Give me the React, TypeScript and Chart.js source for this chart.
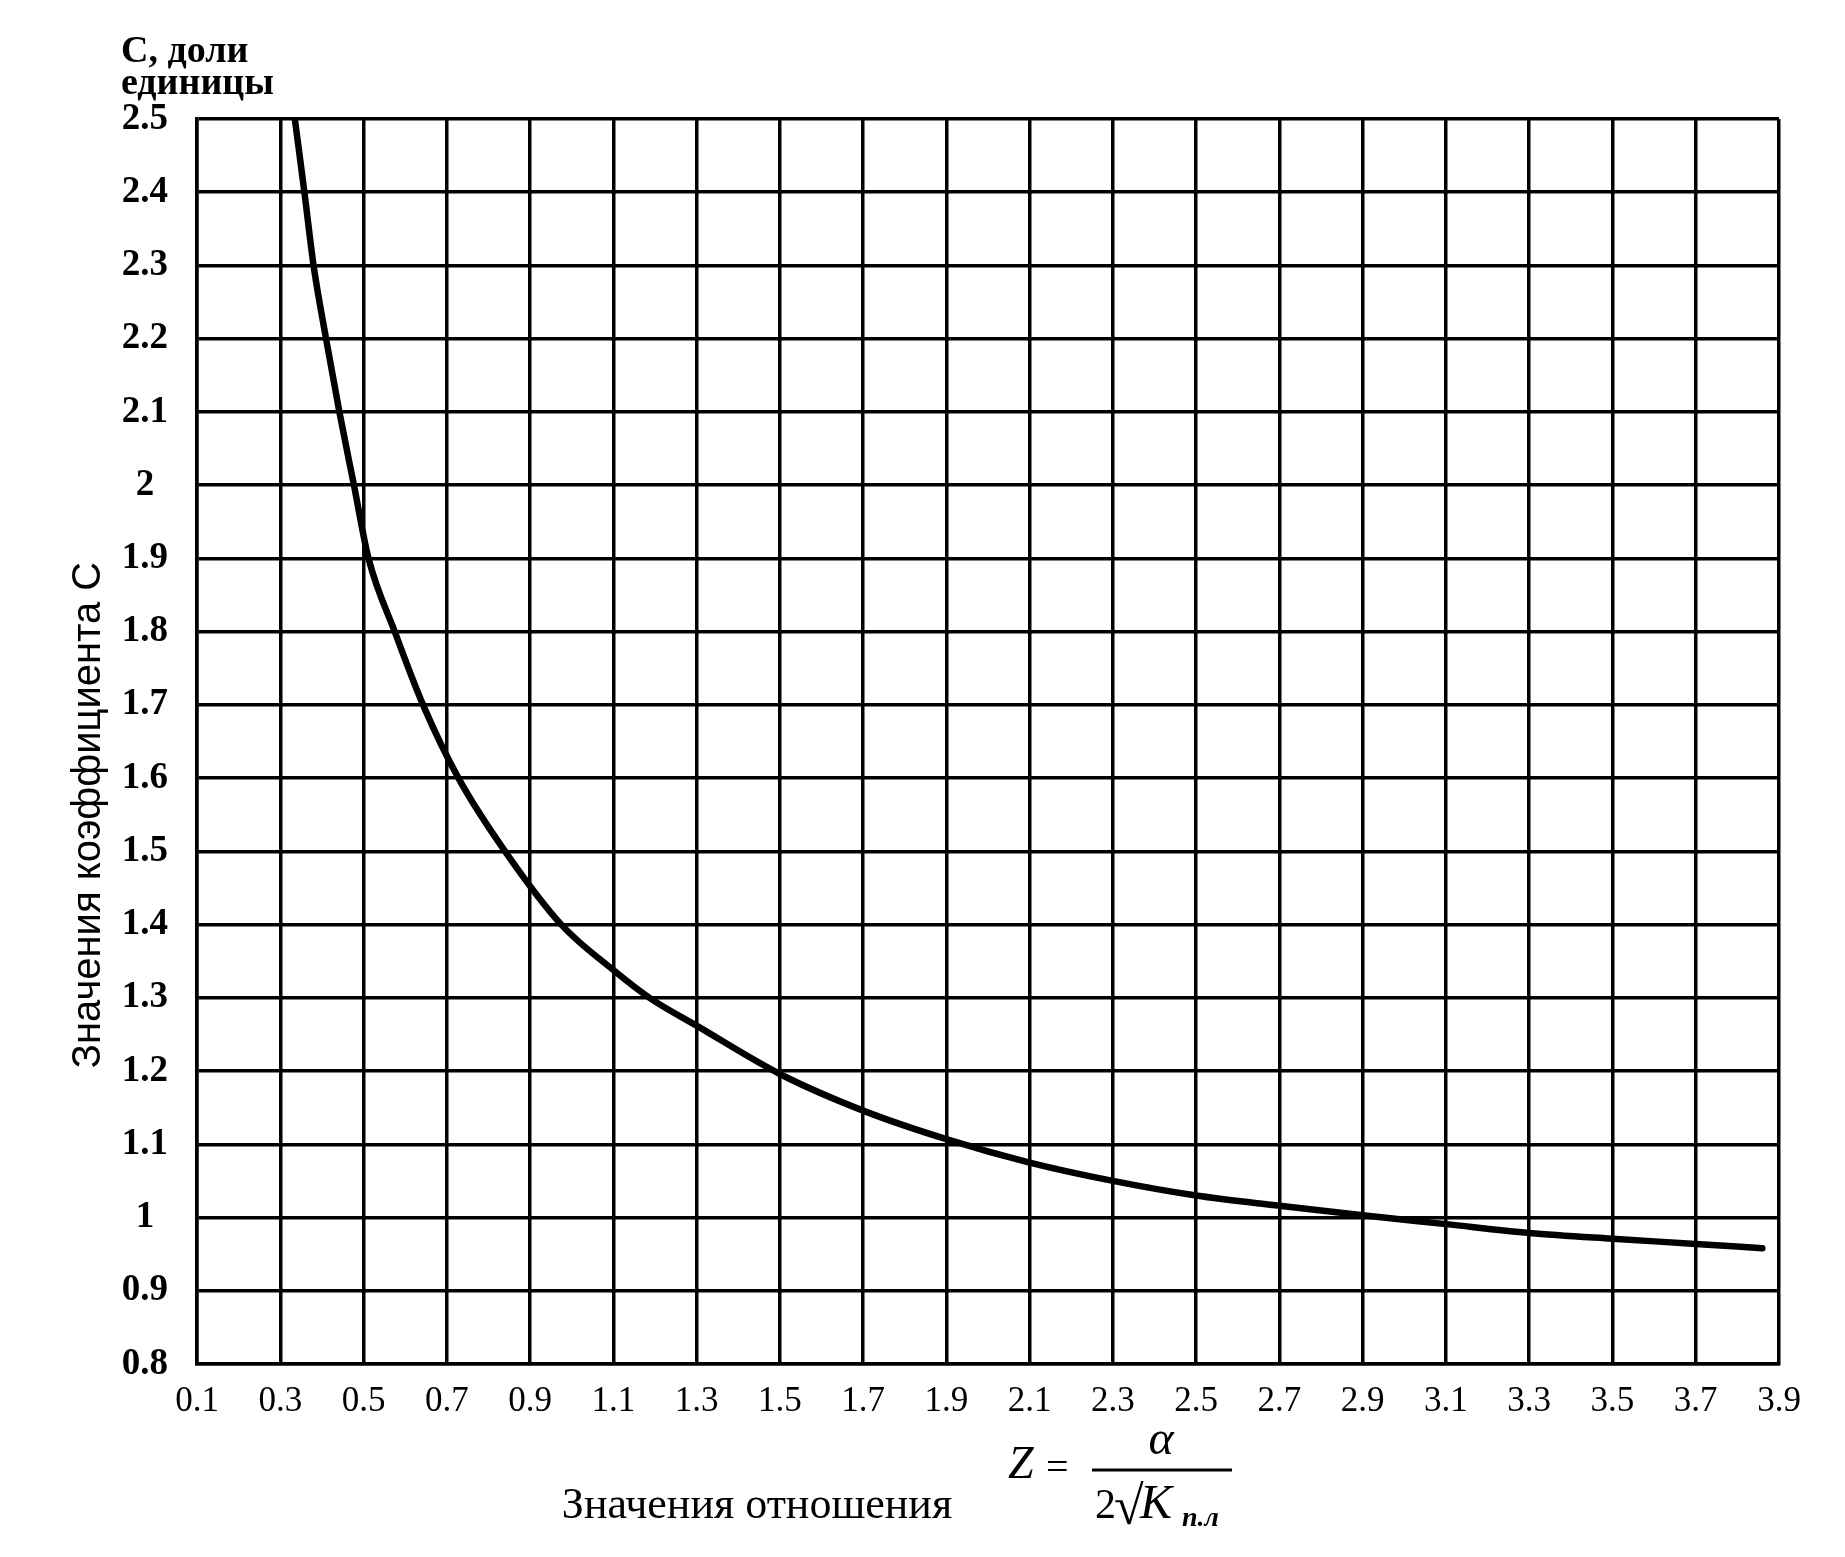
import React, { useEffect, useRef } from "react";
import { Chart, registerables } from "chart.js";

Chart.register(...registerables);

// Curve: Z (ratio) vs coefficient C
const zValues = [0.335, 0.358, 0.38, 0.41, 0.442, 0.477, 0.512, 0.575, 0.643, 0.728, 0.84, 0.975, 1.1, 1.187, 1.3, 1.5, 1.7, 1.9, 2.1, 2.3, 2.5, 2.7, 2.9, 3.1, 3.3, 3.5, 3.7, 3.86];
const cValues = [2.5, 2.4, 2.3, 2.2, 2.1, 2.0, 1.9, 1.8, 1.7, 1.6, 1.5, 1.4, 1.338, 1.3, 1.262, 1.196, 1.146, 1.107, 1.075, 1.05, 1.03, 1.016, 1.003, 0.991, 0.979, 0.971, 0.964, 0.958];

const xMin = 0.1;
const xMax = 3.9;
const xStep = 0.2;
const yMin = 0.8;
const yMax = 2.5;
const yStep = 0.1;

const yUnitLines = ["С, доли", "единицы"];
const yTitle = "Значения коэффициента С";
const xTitle = "Значения отношения";
const formulaLeft = "Z";
const formulaEq = "=";
const formulaNum = "α";
const formulaTwo = "2";
const formulaRoot = "√";
const formulaK = "K";
const formulaSub = "п.л";

const SERIF = '"Liberation Serif", "Times New Roman", serif';
const SANS = '"Liberation Sans", Arial, sans-serif';

const fmt = (v: number) => String(Number(Number(v).toFixed(1)));

const textPlugin = {
  id: "customText",
  afterDraw(chart: any) {
    const ctx = chart.ctx as CanvasRenderingContext2D;
    ctx.save();
    ctx.fillStyle = "#000";
    ctx.strokeStyle = "#000";
    ctx.textBaseline = "alphabetic";

    // top-left unit label
    ctx.font = `bold 38px ${SERIF}`;
    ctx.textAlign = "left";
    ctx.fillText(yUnitLines[0], 121, 62);
    ctx.fillText(yUnitLines[1], 121, 94);

    // rotated y title
    ctx.save();
    ctx.translate(100, 815);
    ctx.rotate(-Math.PI / 2);
    ctx.font = `40px ${SANS}`;
    ctx.textAlign = "center";
    ctx.fillText(yTitle, 0, 0);
    ctx.restore();

    // x title
    ctx.font = `44px ${SERIF}`;
    ctx.textAlign = "center";
    ctx.fillText(xTitle, 757, 1518);

    // formula
    ctx.textAlign = "left";
    ctx.font = `italic 46px ${SERIF}`;
    ctx.fillText(formulaLeft, 1008, 1478);
    ctx.font = `40px ${SERIF}`;
    ctx.fillText(formulaEq, 1046, 1480);
    ctx.lineWidth = 3;
    ctx.beginPath();
    ctx.moveTo(1092, 1470);
    ctx.lineTo(1232, 1470);
    ctx.stroke();
    ctx.font = `italic 48px ${SERIF}`;
    ctx.textAlign = "center";
    ctx.fillText(formulaNum, 1161, 1454);
    ctx.textAlign = "left";
    ctx.font = `42px ${SERIF}`;
    ctx.fillText(formulaTwo, 1095, 1518);
    ctx.font = `54px ${SERIF}`;
    ctx.fillText(formulaRoot, 1114, 1524);
    ctx.font = `italic 48px ${SERIF}`;
    ctx.fillText(formulaK, 1140, 1518);
    ctx.font = `italic bold 28px ${SERIF}`;
    ctx.fillText(formulaSub, 1182, 1526);

    ctx.restore();
  },
};

export default function App() {
  const canvasRef = useRef<HTMLCanvasElement | null>(null);

  useEffect(() => {
    if (!canvasRef.current) return;
    const data = zValues.map((z, i) => ({ x: z, y: cValues[i] }));
    const chart = new Chart(canvasRef.current, {
      type: "scatter",
      data: {
        datasets: [
          {
            data,
            showLine: true,
            borderColor: "#000",
            borderWidth: 6.5,
            pointRadius: 0,
            cubicInterpolationMode: "monotone",
            borderCapStyle: "round",
            borderJoinStyle: "round",
          } as any,
        ],
      },
      options: {
        animation: false,
        responsive: true,
        maintainAspectRatio: false,
        layout: { padding: { left: 0, right: 66, top: 119, bottom: 0 } },
        plugins: {
          legend: { display: false },
          tooltip: { enabled: false },
          title: { display: false },
        },
        scales: {
          x: {
            type: "linear",
            min: xMin,
            max: xMax,
            afterFit: (scale: any) => {
              scale.height = 193;
            },
            ticks: {
              stepSize: xStep,
              autoSkip: false,
              maxRotation: 0,
              padding: 17,
              color: "#000",
              font: { family: SERIF, size: 35 },
              callback: (v: any) => fmt(v),
            },
            grid: { color: "#000", lineWidth: 3.5, drawTicks: false },
            border: { display: true, color: "#000", width: 3.5 },
          },
          y: {
            type: "linear",
            min: yMin,
            max: yMax,
            afterFit: (scale: any) => {
              scale.width = 197;
            },
            ticks: {
              stepSize: yStep,
              autoSkip: false,
              padding: 29,
              crossAlign: "center",
              color: "#000",
              font: { family: SERIF, size: 37, weight: "bold" },
              callback: (v: any) => fmt(v),
            },
            grid: { color: "#000", lineWidth: 3.5, drawTicks: false },
            border: { display: true, color: "#000", width: 3.5 },
          },
        },
      },
      plugins: [textPlugin],
    });
    return () => chart.destroy();
  }, []);

  return (
    <div
      style={{
        position: "fixed",
        left: 0,
        top: 0,
        width: 1845,
        height: 1557,
        background: "#fff",
      }}
    >
      <canvas ref={canvasRef} style={{ width: "100%", height: "100%" }} />
    </div>
  );
}
